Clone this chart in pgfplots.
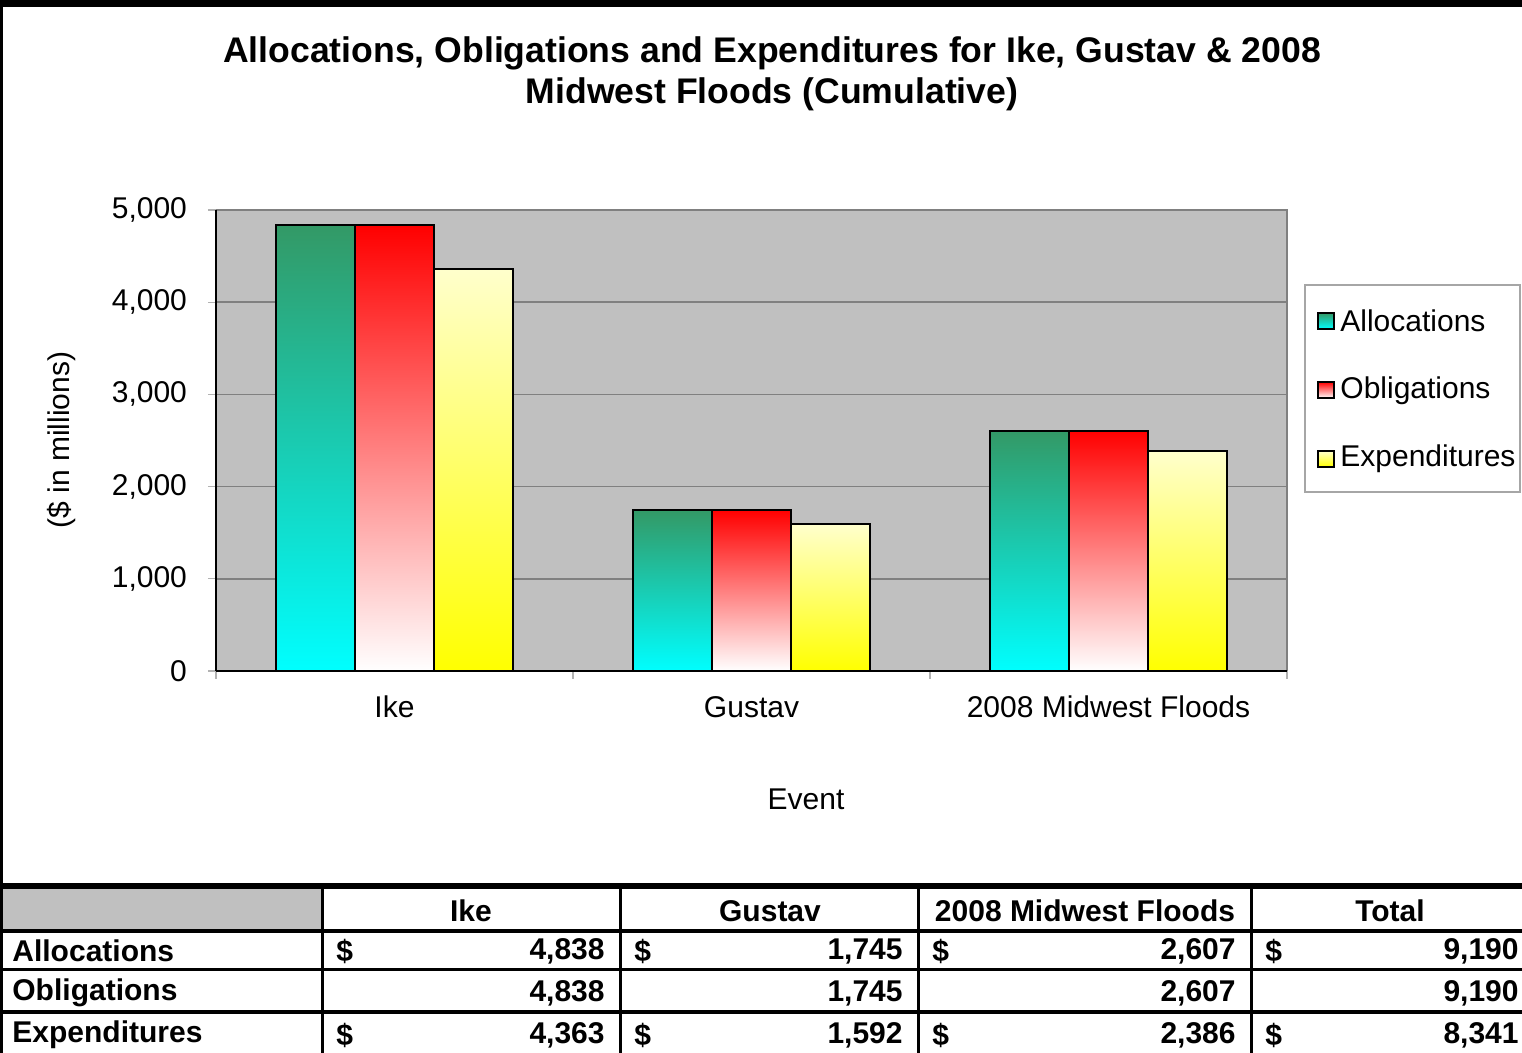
\documentclass[border=0pt]{standalone}
\usepackage{fontspec}
\setmainfont{Liberation Sans}
\usepackage{pgfplots}
\pgfplotsset{compat=1.18}

\definecolor{plotgray}{HTML}{C0C0C0}
\definecolor{gridgray}{HTML}{808080}
\definecolor{allocTop}{HTML}{339966}
\definecolor{allocBot}{HTML}{00FFFF}
\definecolor{obligTop}{HTML}{FF0000}
\definecolor{expTop}{HTML}{FFFFCC}
\definecolor{expBot}{HTML}{FFFF00}

\newcommand{\fs}{\fontsize{15}{18}\selectfont}

% each bar is its own plot so that every bar gets its own gradient
\pgfplotsset{
  alloc/.style={ybar, bar shift=-0.2213, draw=black, line width=1pt,
    top color=allocTop, bottom color=allocBot},
  oblig/.style={ybar, bar shift=0, draw=black, line width=1pt,
    top color=obligTop, bottom color=white},
  expend/.style={ybar, bar shift=0.2213, draw=black, line width=1pt,
    top color=expTop, bottom color=expBot},
}

\begin{document}
\begin{tikzpicture}
  \begin{axis}[
      at={(108pt,-335.5pt)}, anchor=south west,
      scale only axis, width=535.5pt, height=230.5pt,
      xmin=-0.5, xmax=2.5, ymin=0, ymax=5000,
      axis lines=left, axis line style={-, black, line width=0.8pt},
      axis background/.style={fill=plotgray, draw=gridgray, line width=1pt},
      ytick={0,1000,...,5000}, ymajorgrids,
      grid style={gridgray, line width=0.8pt},
      xtick={0,1,2},
      xticklabels={Ike, Gustav, 2008 Midwest Floods},
      minor xtick={-0.5,0.5,1.5,2.5},
      major tick length=4pt, minor tick length=4pt,
      tick align=outside,
      tick style={gray!60, line width=0.6pt},
      xtick style={draw=none},
      minor x tick style={draw=gray!60},
      scaled y ticks=false,
      /pgf/number format/assume math mode=true,
      /pgf/number format/1000 sep={,},
      tick label style={font=\fs},
      xticklabel style={yshift=-5pt},
      yticklabel style={xshift=-7pt},
      bar width=0.2213,
    ]
    % Allocations
    \addplot[alloc] coordinates {(0,4838)};
    \addplot[alloc] coordinates {(1,1745)};
    \addplot[alloc] coordinates {(2,2607)};
    % Obligations
    \addplot[oblig] coordinates {(0,4838)};
    \addplot[oblig] coordinates {(1,1745)};
    \addplot[oblig] coordinates {(2,2607)};
    % Expenditures
    \addplot[expend] coordinates {(0,4363)};
    \addplot[expend] coordinates {(1,1592)};
    \addplot[expend] coordinates {(2,2386)};
  \end{axis}

  \begin{scope}[x=0.5pt, y=-0.5pt]
    \path[use as bounding box] (0,0) rectangle (1522,1053);
    % frame
    \fill[black] (0,0) rectangle (1522,7);
    \fill[black] (0,0) rectangle (3,1053);

    % title
    \node[font=\fontsize{17.8}{21}\selectfont\bfseries] at (772,53)
      {Allocations, Obligations and Expenditures for Ike, Gustav \& 2008};
    \node[font=\fontsize{17.8}{21}\selectfont\bfseries] at (772,94)
      {Midwest Floods (Cumulative)};

    % axis titles
    \node[font=\fs, rotate=90] at (62,440) {(\$ in millions)};
    \node[font=\fs] at (806,799) {Event};

    % legend
    \draw[gray!70, line width=0.6pt] (1305,285) rectangle (1520,492);
    \draw[black, line width=1pt, top color=allocTop, bottom color=allocBot]
      (1318,313) rectangle (1334,329);
    \draw[black, line width=1pt, top color=obligTop, bottom color=white]
      (1318,382) rectangle (1334,398);
    \draw[black, line width=1pt, top color=expTop, bottom color=expBot]
      (1318,451) rectangle (1334,467);
    \node[font=\fs, anchor=west, inner sep=0pt] at (1340,321) {Allocations};
    \node[font=\fs, anchor=west, inner sep=0pt] at (1340,391) {Obligations};
    \node[font=\fs, anchor=west, inner sep=0pt] at (1340,459) {Expenditures};

    % data table
    \fill[plotgray] (3,889) rectangle (322,930);
    \fill[black] (0,883) rectangle (1522,889);
    \fill[black] (0,929) rectangle (1522,933);
    \fill[black] (0,968) rectangle (1522,971);
    \fill[black] (0,1010) rectangle (1522,1014);
    \foreach \vx in {322,620,918,1251}
      \fill[black] (\vx-1.5,889) rectangle (\vx+1.5,1053);

    \begin{scope}[every node/.style={font=\fs\bfseries, inner sep=0pt}]
      \node at (471,911) {Ike};
      \node at (770,911) {Gustav};
      \node at (1085,911) {2008 Midwest Floods};
      \node at (1390,911) {Total};

      \node[anchor=west] at (12,951) {Allocations};
      \node[anchor=west] at (12,993) {Obligations};
      \node[anchor=west] at (12,1035) {Expenditures};

      \foreach \cx in {336,634,932,1265} {
        \node[anchor=west] at (\cx,951) {\$};
        \node[anchor=west] at (\cx,1035) {\$};
      }
      \node[anchor=east] at (605,951) {4,838};
      \node[anchor=east] at (903,951) {1,745};
      \node[anchor=east] at (1236,951) {2,607};
      \node[anchor=east] at (1519,951) {9,190};
      \node[anchor=east] at (605,993) {4,838};
      \node[anchor=east] at (903,993) {1,745};
      \node[anchor=east] at (1236,993) {2,607};
      \node[anchor=east] at (1519,993) {9,190};
      \node[anchor=east] at (605,1035) {4,363};
      \node[anchor=east] at (903,1035) {1,592};
      \node[anchor=east] at (1236,1035) {2,386};
      \node[anchor=east] at (1519,1035) {8,341};
    \end{scope}
  \end{scope}
\end{tikzpicture}
\end{document}
